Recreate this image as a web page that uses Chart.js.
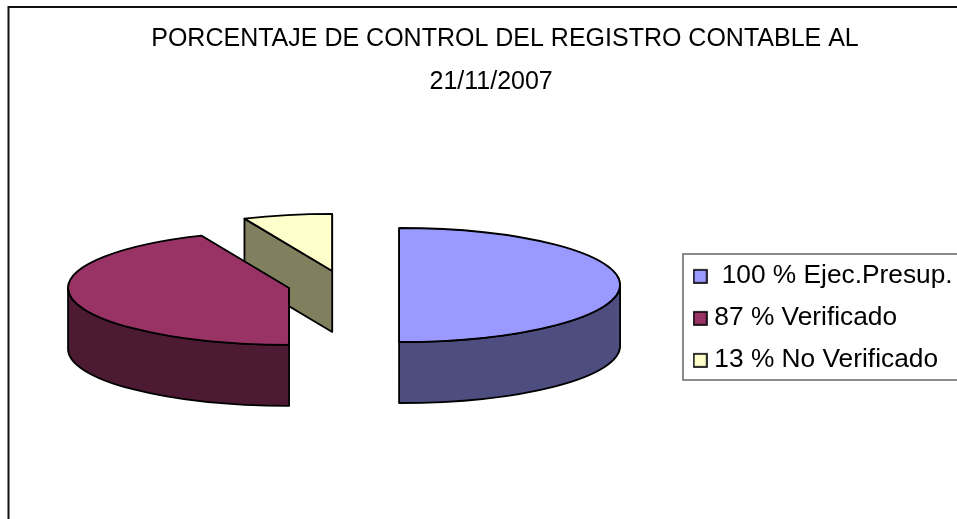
<!DOCTYPE html>
<html>
<head>
<meta charset="utf-8">
<title>Porcentaje de control</title>
<script src="https://cdn.jsdelivr.net/npm/chart.js@4/dist/chart.umd.min.js"></script>
<style>
  html, body { margin: 0; padding: 0; background: #fff; overflow: hidden; }
  canvas { display: block; }
</style>
</head>
<body>
<canvas id="pieChart" width="957" height="519"></canvas>
<script>
// Datos del grafico
const titleLines = ["PORCENTAJE DE CONTROL DEL REGISTRO CONTABLE AL", "21/11/2007    "];
const categories = [" 100 % Ejec.Presup.", "87 % Verificado", "13 % No Verificado"];
const values = [100, 87, 13];

// Colores: cara superior y cara lateral (mitad de brillo)
const topColors = ["#9999FF", "#993366", "#FFFFCC"];
const sideColors = ["#4D4D80", "#4D1A33", "#80805F"];

// Perspectiva del pastel 3D
const pieRadius = 221;
const squash = 0.258;
const depth = 61;
const explode = 55.6;

// Marcador de la leyenda: cuadro con margen arriba para bajarlo un poco respecto al texto
function legendMarker(color) {
  const c = document.createElement("canvas");
  c.width = 15;
  c.height = 17;
  const g = c.getContext("2d");
  g.fillStyle = color;
  g.strokeStyle = "#000";
  g.lineWidth = 1.6;
  g.fillRect(1, 3, 13, 13);
  g.strokeRect(1, 3, 13, 13);
  return c;
}

// Pastel 3D: se aplastan los arcos de Chart.js y se agregan las paredes
const pie3d = {
  id: "pie3d",
  beforeDraw(chart) {
    const ctx = chart.ctx;
    ctx.save();
    ctx.strokeStyle = "#111";
    ctx.lineWidth = 2;
    ctx.strokeRect(8.5, 7, 1200, 1200);
    ctx.strokeStyle = "#666";
    ctx.lineWidth = 1.5;
    ctx.strokeRect(683, 254, 500, 126);
    ctx.restore();
  },
  afterLayout(chart) {
    // titulo y leyenda van en lugares fijos, como en el original
    chart.titleBlock.left = 0;
    chart.titleBlock.right = 1010;
    const legend = chart.legend;
    legend.left = 683.5;
    legend.top = 246.5;
    legend.right = 957;
    legend.bottom = 519;
  },
  beforeDatasetDraw(chart, args) {
    const ctx = chart.ctx;
    const arcs = chart.getDatasetMeta(args.index).data;
    // de atras hacia adelante
    for (let i = arcs.length - 1; i >= 0; i--) {
      drawSlice(ctx, arcs[i], i);
    }
    return false;
  },
};

function drawSlice(ctx, arc, i) {
  const { x, y, startAngle, endAngle, outerRadius: r } = arc;
  const mid = (startAngle + endAngle) / 2;
  const sx = x + Math.cos(mid) * explode;
  const sy = y + Math.sin(mid) * explode * squash;
  const ry = r * squash;
  const eps = 1e-6;

  ctx.save();
  ctx.lineWidth = 1.8;
  ctx.lineJoin = "round";
  ctx.strokeStyle = "#000";
  ctx.fillStyle = sideColors[i];

  // paredes radiales que miran al frente
  [[startAngle, -Math.PI / 2], [endAngle, Math.PI / 2]].forEach(([a, turn]) => {
    if (Math.sin(a + turn) > eps) {
      const px = sx + Math.cos(a) * r;
      const py = sy + Math.sin(a) * ry;
      ctx.beginPath();
      ctx.moveTo(px, py);
      ctx.lineTo(sx, sy);
      ctx.lineTo(sx, sy + depth);
      ctx.lineTo(px, py + depth);
      ctx.closePath();
      ctx.fill();
      ctx.stroke();
    }
  });

  // pared exterior: solo la parte delantera del borde (angulos 0..PI)
  const a0 = Math.max(startAngle, 0);
  const a1 = Math.min(endAngle, Math.PI);
  if (a1 > a0) {
    ctx.beginPath();
    ctx.ellipse(sx, sy, r, ry, 0, a0, a1);
    ctx.ellipse(sx, sy + depth, r, ry, 0, a1, a0, true);
    ctx.closePath();
    ctx.fill();
    ctx.stroke();
  }

  // cara superior con el arco de la libreria
  ctx.save();
  ctx.translate(sx, sy);
  ctx.scale(1, squash);
  ctx.translate(-x, -y);
  arc.draw(ctx);
  ctx.beginPath();
  ctx.moveTo(x, y);
  ctx.arc(x, y, r, startAngle, endAngle);
  ctx.closePath();
  ctx.restore();
  ctx.stroke();
  ctx.restore();
}

new Chart(document.getElementById("pieChart"), {
  type: "pie",
  data: {
    labels: categories,
    datasets: [
      {
        data: values,
        backgroundColor: topColors,
        borderColor: "#000",
        borderWidth: 1.5,
      },
    ],
  },
  options: {
    responsive: false,
    animation: false,
    events: [],
    radius: pieRadius,
    rotation: 0,
    layout: { padding: { top: 0, right: 270, bottom: 53, left: 0 } },
    plugins: {
      title: {
        display: true,
        text: titleLines,
        color: "#000",
        align: "center",
        padding: { top: 18, bottom: 0 },
        font: { family: "Liberation Sans", size: 25, weight: "normal", lineHeight: 1.72 },
      },
      legend: {
        position: "chartArea",
        align: "start",
        labels: {
          color: "#000",
          font: { family: "Liberation Sans", size: 26.3 },
          usePointStyle: true,
          boxWidth: 2,
          boxHeight: 14,
          padding: 15.7,
          generateLabels(chart) {
            return Chart.overrides.pie.plugins.legend.labels
              .generateLabels(chart)
              .map((item, i) => ({ ...item, pointStyle: legendMarker(topColors[i]) }));
          },
        },
      },
      tooltip: { enabled: false },
    },
  },
  plugins: [pie3d],
});
</script>
</body>
</html>
